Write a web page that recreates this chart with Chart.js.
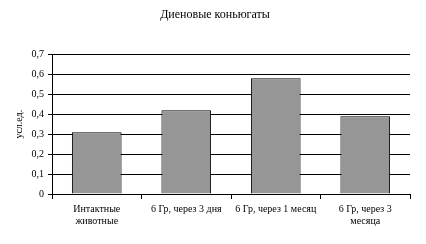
<!DOCTYPE html>
<html>
<head>
<meta charset="utf-8">
<script src="https://cdn.jsdelivr.net/npm/chart.js@4"></script>
<style>
  html, body { margin: 0; padding: 0; background: #fff; }
  #wrap { width: 426px; height: 244px; }
</style>
</head>
<body>
<div id="wrap"><canvas id="chart" width="426" height="244"></canvas></div>
<script>
const chartTitle = "Диеновые коньюгаты";
const axisTitle = "усл.ед.";
const categories = [
  ["Интактные", "животные"],
  "6 Гр, через 3 дня",
  "6 Гр, через 1 месяц",
  ["6 Гр, через 3", "месяца"]
];
const values = [0.31, 0.42, 0.58, 0.39];

const serif = "'Liberation Serif', 'Times New Roman', serif";

const ctx = document.getElementById("chart").getContext("2d");

new Chart(ctx, {
  type: "bar",
  data: {
    labels: categories,
    datasets: [{
      data: values,
      backgroundColor: "#969696",
      borderColor: "#000",
      borderWidth: 1,
      barPercentage: 0.555,
      categoryPercentage: 1
    }]
  },
  options: {
    responsive: false,
    animation: false,
    devicePixelRatio: 1,
    layout: { padding: { left: 4, right: 0, top: 0, bottom: 0 } },
    plugins: {
      legend: { display: false },
      tooltip: { enabled: false },
      title: {
        display: true,
        text: chartTitle,
        color: "#000",
        font: { family: serif, size: 12, weight: "normal" },
        padding: { top: 8, bottom: 32 }
      }
    },
    scales: {
      x: {
        offset: true,
        grid: {
          offset: true,
          drawOnChartArea: false,
          drawTicks: true,
          tickLength: 5,
          color: "#000"
        },
        border: { color: "#000", width: 1 },
        ticks: {
          color: "#000",
          font: { family: serif, size: 10 },
          maxRotation: 0,
          minRotation: 0,
          autoSkip: false,
          padding: 4
        },
        afterFit: s => { s.height = 50; }
      },
      y: {
        min: 0,
        max: 0.7,
        grid: {
          color: "#000",
          lineWidth: 1,
          drawTicks: true,
          tickLength: 4
        },
        border: { color: "#000", width: 1 },
        ticks: {
          stepSize: 0.1,
          color: "#000",
          font: { family: serif, size: 10 },
          padding: 4,
          callback: v => v === 0 ? "0" : v.toFixed(1).replace(".", ",")
        },
        title: {
          display: true,
          text: axisTitle,
          color: "#000",
          font: { family: serif, size: 10 },
          padding: { top: 9, bottom: 4 }
        },
        afterFit: s => { s.width = 48; }
      },
      // empty right margin so the title centres on the whole picture
      spacer: {
        type: "linear",
        position: "right",
        display: true,
        grid: { display: false },
        border: { display: false },
        ticks: { display: false },
        afterFit: s => { s.width = 16; }
      }
    }
  }
});
</script>
</body>
</html>
